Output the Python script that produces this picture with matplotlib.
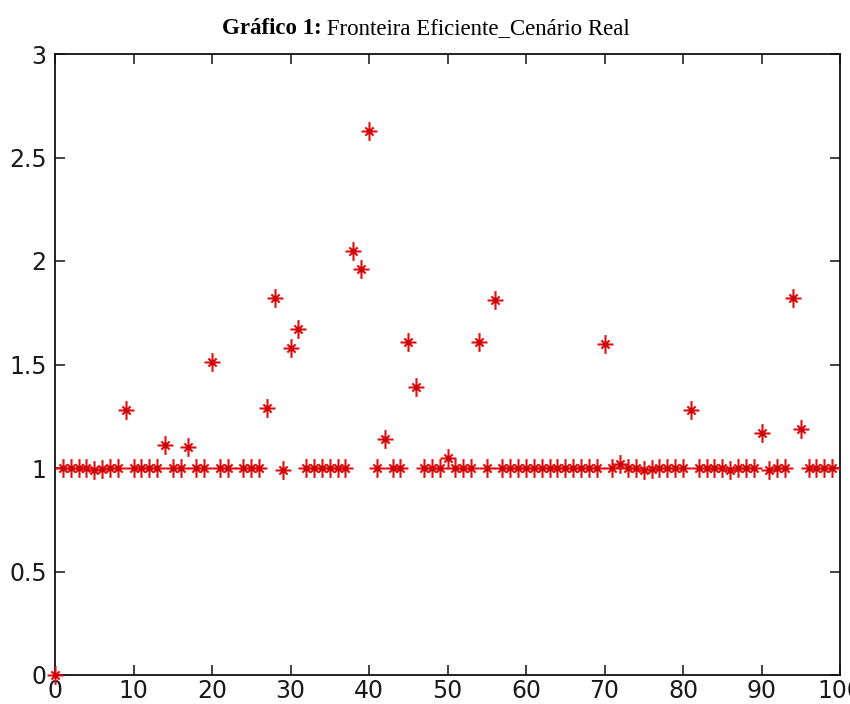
import numpy as np
import matplotlib
matplotlib.use("Agg")
import matplotlib.pyplot as plt
from matplotlib.path import Path

# Observation index and efficiency ratio for each scenario point
x_vals = list(range(0, 100))
y_vals = [
    0.00, 1.00, 1.00, 1.00, 1.00, 0.99, 0.995, 1.00, 1.00, 1.28,   # 0-9
    1.00, 1.00, 1.00, 1.00, 1.11, 1.00, 1.00, 1.10, 1.00, 1.00,    # 10-19
    1.51, 1.00, 1.00, np.nan, 1.00, 1.00, 1.00, 1.29, 1.82, 0.99,  # 20-29
    1.58, 1.67, 1.00, 1.00, 1.00, 1.00, 1.00, 1.00, 2.05, 1.96,    # 30-39
    2.63, 1.00, 1.14, 1.00, 1.00, 1.61, 1.39, 1.00, 1.00, 1.00,    # 40-49
    1.05, 1.00, 1.00, 1.00, 1.61, 1.00, 1.81, 1.00, 1.00, 1.00,    # 50-59
    1.00, 1.00, 1.00, 1.00, 1.00, 1.00, 1.00, 1.00, 1.00, 1.00,    # 60-69
    1.60, 1.00, 1.02, 1.00, 1.00, 0.99, 0.995, 1.00, 1.00, 1.00,   # 70-79
    1.00, 1.28, 1.00, 1.00, 1.00, 1.00, 0.99, 1.00, 1.00, 1.00,    # 80-89
    1.17, 0.99, 1.00, 1.00, 1.82, 1.19, 1.00, 1.00, 1.00, 1.00,    # 90-99
]
x_ticks = [0, 10, 20, 30, 40, 50, 60, 70, 80, 90, 100]
y_ticks = [0, 0.5, 1, 1.5, 2, 2.5, 3]
y_ticklabels = ["0", "0.5", "1", "1.5", "2", "2.5", "3"]

title_bold = "Gráfico 1:"
title_rest = "Fronteira Eficiente_Cenário Real"

# Eight-spoke asterisk marker (long vertical arm, slightly shorter
# horizontal arm and shorter diagonals)
d = 0.62 / np.sqrt(2)
verts = [(-0.85, 0), (0.85, 0), (0, -1), (0, 1),
         (-d, -d), (d, d), (-d, d), (d, -d)]
codes = [Path.MOVETO, Path.LINETO] * 4
asterisk = Path(verts, codes)

red = "#e30b0b"
tick_font = ["Liberation Sans Narrow", "DejaVu Sans"]

fig = plt.figure(figsize=(8.5, 7.04), dpi=100)
ax = fig.add_axes([55 / 850, 29 / 704, 785 / 850, 621 / 704])

ax.plot(x_vals, y_vals, linestyle="none", marker=asterisk, markersize=13.5,
        markeredgecolor=red, markerfacecolor="none", markeredgewidth=1.5,
        clip_on=False, zorder=3)
ax.plot(x_vals, y_vals, linestyle="none", marker="o", markersize=4,
        markeredgecolor="none", markerfacecolor="#c8060b", clip_on=False,
        zorder=4)

ax.set_xlim(0, 100)
ax.set_ylim(0, 3)
ax.set_xticks(x_ticks)
ax.set_xticklabels([str(t) for t in x_ticks])
ax.set_yticks(y_ticks)
ax.set_yticklabels(y_ticklabels)

ax.tick_params(direction="in", length=7, width=1.1, top=True, right=True,
               labelsize=17, labelcolor="#1a1a1a", color="#111111")
ax.tick_params(axis="y", pad=6)
ax.tick_params(axis="x", pad=3)
for lab in ax.get_xticklabels() + ax.get_yticklabels():
    lab.set_family(tick_font)
for sp in ax.spines.values():
    sp.set_linewidth(1.3)
    sp.set_color("#111111")

# Caption-style title: bold label followed by the regular description
t1 = fig.text(0, 0, title_bold, fontsize=16.5, fontweight="bold",
              family=["Liberation Serif", "DejaVu Serif"], va="baseline")
t2 = fig.text(0, 0, " " + title_rest, fontsize=16.5,
              family=["Liberation Serif", "DejaVu Serif"], va="baseline")
fig.canvas.draw()
r = fig.canvas.get_renderer()
w1 = t1.get_window_extent(r).width
w2 = t2.get_window_extent(r).width
W = fig.bbox.width
x0 = 426 - (w1 + w2) / 2
base_y = 1 - 34 / 704
t1.set_position((x0 / W, base_y))
t2.set_position(((x0 + w1) / W, base_y))

fig.savefig("out.png", dpi=100, facecolor="white")
